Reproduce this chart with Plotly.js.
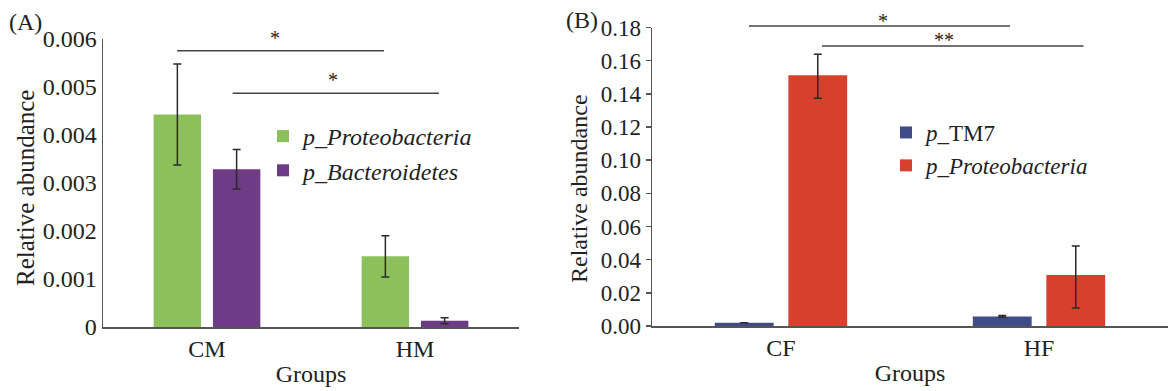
<!DOCTYPE html>
<html>
<head>
<meta charset="utf-8">
<script src="https://cdn.plot.ly/plotly-3.0.1.min.js"></script>
<style>
  html, body { margin: 0; padding: 0; background: #fff; }
  #chart { width: 1168px; height: 391px; }
</style>
</head>
<body>
<div id="chart"></div>
<script>
// ---- Panel A data ----
const groupsA = ['CM', 'HM'];
const proteoA = [0.00442, 0.00147];
const proteoAErr = [0.00105, 0.00043];
const bacteroA = [0.00328, 0.00013];
const bacteroAErr = [0.00041, 0.00006];
const namesA = ['<i>p_Proteobacteria</i>', '<i>p_Bacteroidetes</i>'];

// ---- Panel B data ----
const groupsB = ['CF', 'HF'];
const tm7B = [0.0020, 0.0058];
const tm7BErr = [0, 0.0005];
const proteoB = [0.1512, 0.0308];
const proteoBErrPlus = [0.0127, 0.0175];
const proteoBErrMinus = [0.0139, 0.0199];
const namesB = ['<i>p</i>_TM7', '<i>p_Proteobacteria</i>'];

const yTicksA = [0, 0.001, 0.002, 0.003, 0.004, 0.005, 0.006];
const yTicksB = [0, 0.02, 0.04, 0.06, 0.08, 0.10, 0.12, 0.14, 0.16, 0.18];
const yTitle = 'Relative abundance';
const xTitle = 'Groups';

const FONT = 'Liberation Serif';
const errStyle = {color: '#2a2a2a', thickness: 1.5, width: 4};

const traces = [
  {type: 'bar', x: groupsA, y: proteoA, name: namesA[0], xaxis: 'x', yaxis: 'y', legend: 'legend',
   marker: {color: '#8cc05a'},
   error_y: Object.assign({type: 'data', array: proteoAErr, visible: true}, errStyle)},
  {type: 'bar', x: groupsA, y: bacteroA, name: namesA[1], xaxis: 'x', yaxis: 'y', legend: 'legend',
   marker: {color: '#6f3a86'},
   error_y: Object.assign({type: 'data', array: bacteroAErr, visible: true}, errStyle)},
  {type: 'bar', x: groupsB, y: tm7B, name: namesB[0], xaxis: 'x2', yaxis: 'y2', legend: 'legend2',
   marker: {color: '#404c88'},
   error_y: Object.assign({type: 'data', array: tm7BErr, visible: true}, errStyle)},
  {type: 'bar', x: groupsB, y: proteoB, name: namesB[1], xaxis: 'x2', yaxis: 'y2', legend: 'legend2',
   marker: {color: '#d7402d'},
   error_y: Object.assign({type: 'data', symmetric: false, array: proteoBErrPlus, arrayminus: proteoBErrMinus, visible: true}, errStyle)}
];

const W = 1168, H = 391;
const px = v => v / W;
const py = v => 1 - v / H;

const titleFont = {family: FONT, size: 24, color: '#222'};

function sigLine(x0, x1, y) {
  return {type: 'line', xref: 'paper', yref: 'paper', x0: px(x0), x1: px(x1), y0: py(y), y1: py(y),
          line: {color: '#444', width: 1.5}};
}
function sigText(t, x, y) {
  return {text: t, xref: 'paper', yref: 'paper', x: px(x), y: py(y), xanchor: 'center', yanchor: 'bottom',
          showarrow: false, font: {family: FONT, size: 20, color: '#222'}};
}
function yTitleAnn(x, y, size) {
  return {text: yTitle, xref: 'paper', yref: 'paper', x: px(x), y: py(y), xanchor: 'center', yanchor: 'middle',
          textangle: -90, showarrow: false, font: {family: FONT, size: size, color: '#222'}};
}

const layout = {
  width: W, height: H,
  margin: {l: 0, r: 0, t: 0, b: 0},
  paper_bgcolor: '#fff', plot_bgcolor: '#fff',
  font: {family: FONT, color: '#222'},
  barmode: 'group',
  bargap: 0.43,
  bargroupgap: 0.2,
  xaxis: {domain: [px(103), px(519)], anchor: 'y', range: [-0.5, 1.5], showline: true, linecolor: '#555', linewidth: 1.5,
          ticks: '', tickfont: {family: FONT, size: 24, color: '#222'}, showgrid: false, zeroline: false,
          title: {text: xTitle, font: titleFont, standoff: 4}},
  yaxis: {domain: [1 - 327 / H, 1 - 38.5 / H], anchor: 'x', range: [0, 0.006], tickvals: yTicksA,
          showline: true, linecolor: '#555', linewidth: 1.5, ticks: '', tickfont: {family: FONT, size: 24, color: '#222'},
          showgrid: false, zeroline: false},
  xaxis2: {domain: [px(652), 1], anchor: 'y2', range: [-0.5, 1.5], showline: true, linecolor: '#555', linewidth: 1.5,
           ticks: '', tickfont: {family: FONT, size: 24, color: '#222'}, showgrid: false, zeroline: false,
           title: {text: xTitle, font: titleFont, standoff: 4}},
  yaxis2: {domain: [1 - 326 / H, 1 - 27.5 / H], anchor: 'x2', range: [0, 0.18], tickvals: yTicksB, tickformat: '.2f',
           showline: true, linecolor: '#555', linewidth: 1.5, ticks: 'outside', ticklen: 5, tickcolor: '#555', tickwidth: 1.5,
           tickfont: {family: FONT, size: 23, color: '#222'}, showgrid: false, zeroline: false},
  showlegend: true,
  legend: {x: px(263), y: py(114), xanchor: 'left', yanchor: 'top', bgcolor: 'rgba(0,0,0,0)',
           font: {family: FONT, size: 24, color: '#222'}, tracegroupgap: 0, itemsizing: 'constant'},
  legend2: {x: px(886), y: py(111), xanchor: 'left', yanchor: 'top', bgcolor: 'rgba(0,0,0,0)',
            font: {family: FONT, size: 23, color: '#222'}, tracegroupgap: 0, itemsizing: 'constant'},
  shapes: [
    sigLine(177, 384, 50.7),
    sigLine(232.7, 439, 93.3),
    sigLine(749, 1010, 26),
    sigLine(822, 1083.5, 46)
  ],
  annotations: [
    sigText('*', 275, 50.7),
    sigText('*', 333, 93.3),
    sigText('*', 882.6, 34),
    sigText('**', 944, 53),
    yTitleAnn(25, 188, 25),
    yTitleAnn(579, 189, 24),
    {text: '(A)', xref: 'paper', yref: 'paper', x: px(25), y: py(22), xanchor: 'center', yanchor: 'middle',
     showarrow: false, font: {family: FONT, size: 24, color: '#222'}},
    {text: '(B)', xref: 'paper', yref: 'paper', x: px(582), y: py(20), xanchor: 'center', yanchor: 'middle',
     showarrow: false, font: {family: FONT, size: 24, color: '#222'}}
  ]
};

Plotly.newPlot('chart', traces, layout, {displayModeBar: false, staticPlot: true});
</script>
</body>
</html>
